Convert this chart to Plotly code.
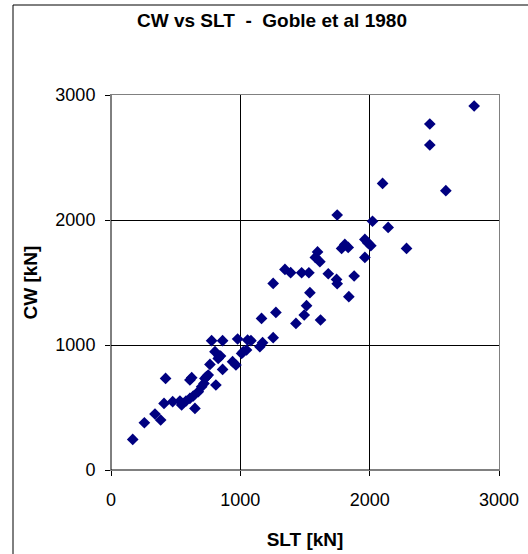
import plotly.graph_objects as go

slt = [168, 258, 340, 384, 410, 422, 477, 533, 546, 580, 610, 624, 649, 636, 610,
       675, 701, 719, 739, 726, 752, 765, 811, 778, 804, 829, 847, 863, 863, 940,
       966, 979, 1023, 1048, 1056, 1082, 1151, 1172, 1254, 1164, 1275, 1254, 1538,
       1512, 1494, 1430, 1620, 1345, 1389, 1474, 1530, 1749, 2022, 2143, 1963, 1984,
       2009, 1963, 1808, 1834, 1783, 1597, 1580, 1615, 1680, 1744, 1749, 1880, 1839,
       2808, 2465, 2465, 2100, 2589, 2285, 1010, 837]
cw = [245, 378, 448, 400, 533, 733, 547, 552, 520, 552, 720, 739, 493, 592, 573,
      627, 667, 693, 747, 733, 760, 845, 680, 1035, 947, 893, 912, 805, 1035, 867,
      840, 1048, 947, 960, 1040, 1035, 987, 1019, 1059, 1213, 1261, 1493, 1419,
      1315, 1240, 1173, 1200, 1605, 1579, 1578, 1578, 2040, 1990, 1941, 1845, 1819,
      1795, 1701, 1805, 1781, 1773, 1745, 1701, 1667, 1570, 1525, 1490, 1552, 1387,
      2912, 2768, 2600, 2293, 2235, 1773, 933, 912]

tick_vals = [0, 1000, 2000, 3000]
tick_text = ["0", "1000", "2000", "3000"]

L, R, T, B = 111, 29, 95, 84
W, H = 528, 554
pw, ph = W - L - R, H - T - B

def px(xp):
    return (xp - L) / pw

def py(yp):
    return (H - B - yp) / ph

FONT = "Liberation Sans, Arial"

fig = go.Figure()
fig.add_trace(go.Scatter(
    x=slt, y=cw, mode="markers",
    marker=dict(symbol="diamond", size=9, color="#000080"),
    showlegend=False,
))

axis_common = dict(
    range=[0, 3000], tickvals=tick_vals, ticktext=tick_text,
    showgrid=True, gridcolor="#000000", gridwidth=1,
    zeroline=False, showline=True, linecolor="#808080", linewidth=1, mirror=True,
    ticks="outside", ticklen=5, tickcolor="#000000",
    tickfont=dict(family=FONT, size=18, color="#000000"),
    automargin=False,
)

fig.update_layout(
    width=W, height=H,
    margin=dict(l=L, r=R, t=T, b=B),
    paper_bgcolor="white", plot_bgcolor="white",
    xaxis=dict(**axis_common, ticklabelstandoff=8,
               title=dict(text="<b>SLT [kN]</b>", standoff=24,
                          font=dict(family=FONT, size=19, color="#000000"))),
    yaxis=dict(**axis_common, ticklabelstandoff=6,
               title=dict(text="<b>CW [kN]</b>", standoff=12,
                          font=dict(family=FONT, size=19, color="#000000"))),
    shapes=[
        dict(type="rect", xref="paper", yref="paper",
             x0=px(13), x1=px(540), y0=py(566), y1=py(5),
             line=dict(color="#000000", width=1), fillcolor="rgba(0,0,0,0)", layer="below"),
        dict(type="line", xref="x", yref="paper", x0=0, x1=0, y0=0, y1=1,
             line=dict(color="#000000", width=1)),
        dict(type="line", xref="paper", yref="y", x0=0, x1=1, y0=0, y1=0,
             line=dict(color="#000000", width=1)),
    ],
    annotations=[
        dict(text="<b>CW vs SLT  -  Goble et al 1980</b>", xref="paper", yref="paper",
             x=px(272), y=py(20), xanchor="center", yanchor="middle", showarrow=False,
             font=dict(family=FONT, size=19, color="#000000")),
    ],
)

fig.write_html("out.html")
